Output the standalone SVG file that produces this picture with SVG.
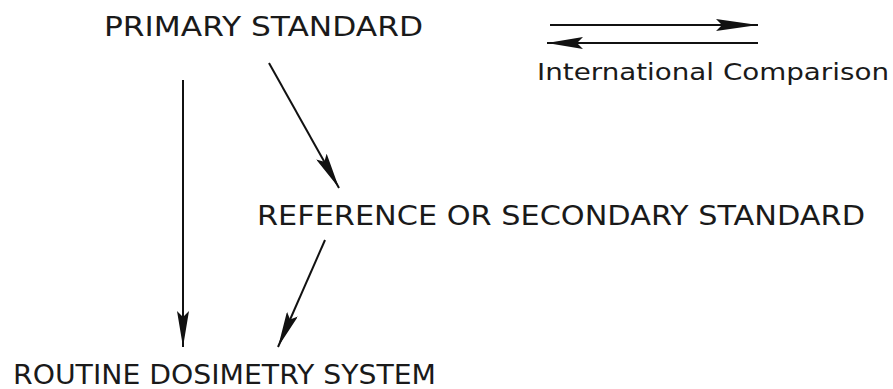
<svg xmlns="http://www.w3.org/2000/svg" width="893" height="389" viewBox="0 0 893 389">
<style>
.t{font-family:"DejaVu Sans","Liberation Sans",sans-serif;fill:#1a1a1a;}
.cap{font-size:27px;}
.small{font-size:23px;}
.ln{stroke:#111;stroke-width:2;fill:none;}
</style>
<defs>
<marker id="ah" viewBox="0 0 36 12" refX="36" refY="6" markerWidth="36" markerHeight="12" markerUnits="userSpaceOnUse" orient="auto">
<path d="M0,0 L36,6 L0,12 L6,6 Z" fill="#111"/>
</marker>
<marker id="ahw" viewBox="0 0 42 12" refX="42" refY="6" markerWidth="42" markerHeight="12" markerUnits="userSpaceOnUse" orient="auto">
<path d="M0,0 L42,6 L0,12 L6,6 Z" fill="#111"/>
</marker>
</defs>
<rect width="893" height="389" fill="#fff"/>
<g id="primary">
<text class="t cap" x="104" y="36" textLength="319" lengthAdjust="spacingAndGlyphs">PRIMARY  STANDARD</text>
</g>
<g id="secondary">
<text class="t cap" x="257" y="225" textLength="608" lengthAdjust="spacingAndGlyphs">REFERENCE OR SECONDARY  STANDARD</text>
</g>
<g id="routine">
<text class="t cap" x="13" y="384" textLength="423" lengthAdjust="spacingAndGlyphs">ROUTINE  DOSIMETRY  SYSTEM</text>
</g>
<g id="legend">
<text class="t small" x="537" y="80" textLength="352" lengthAdjust="spacingAndGlyphs">International  Comparison</text>
</g>
<g id="connectors">
<line class="ln" x1="550" y1="25" x2="758" y2="25" marker-end="url(#ahw)"/>
<line class="ln" x1="758" y1="43" x2="547" y2="43" marker-end="url(#ah)"/>
<line class="ln" x1="183" y1="80" x2="183" y2="347" marker-end="url(#ah)"/>
<line class="ln" x1="269" y1="63" x2="339" y2="188" marker-end="url(#ah)"/>
<line class="ln" x1="325" y1="240" x2="278" y2="347" marker-end="url(#ah)"/>
</g>
</svg>
